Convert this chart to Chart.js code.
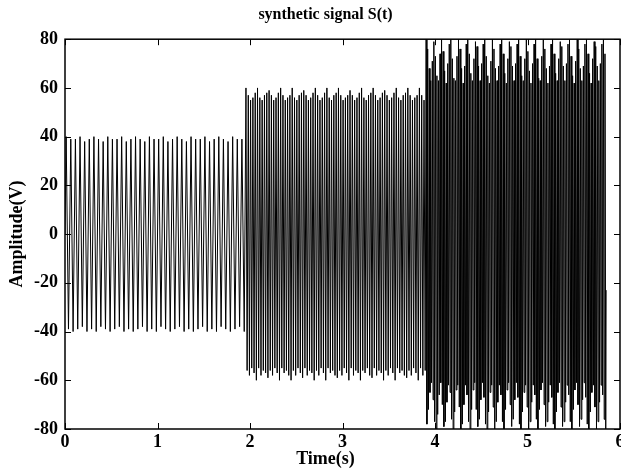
<!DOCTYPE html>
<html lang="en">

<head>
    <meta charset="UTF-8">
    <title>synthetic signal S(t)</title>
    <script src="https://cdn.jsdelivr.net/npm/chart.js"></script>
    <style>
        html, body {
            margin: 0;
            padding: 0;
            background: #fff;
        }

        .chart-box {
            position: relative;
            width: 621px;
            height: 470px;
        }
    </style>
</head>

<body>
    <div class="chart-box">
        <canvas id="signalChart"></canvas>
    </div>

    <script>
        // Segment bounds in seconds
        const segStart = [0, 1.95, 3.9];
        const segEnd = [1.95, 3.9, 5.85];

        // Positive / negative swings of each cycle (V)
        const seg1Peaks = [40, 39, 39, 40, 38, 39, 40, 39, 38, 40, 39, 39, 40, 38, 39, 40, 39, 38, 40, 39,
            39, 40, 38, 39, 40, 39, 38, 40, 39, 39, 40, 38, 39, 40, 39, 38, 40, 39, 39];
        const seg1Troughs = [-39, -40, -39, -38, -40, -39, -40, -38, -39, -40, -39, -38, -40, -39, -40, -39, -38, -40, -39, -40,
            -38, -39, -40, -39, -38, -40, -39, -40, -39, -38, -40, -39, -40, -38, -39, -40, -39, -38, -40];

        const seg2Peaks = [60, 57, 55, 56, 58, 60, 56, 55, 57, 58, 59, 57, 55, 56, 58, 60, 57, 55, 56, 57,
            60, 56, 55, 57, 58, 59, 57, 55, 56, 58, 60, 57, 55, 56, 58, 60, 56, 55, 57, 58,
            60, 57, 55, 56, 57, 59, 57, 55, 56, 58, 60, 56, 55, 57, 58, 60, 57, 55, 56, 58,
            59, 57, 55, 56, 58, 60, 56, 55, 57, 58, 60, 57, 55, 56, 57, 60, 57, 55];
        const seg2Troughs = [-56, -58, -55, -57, -60, -55, -58, -56, -57, -59, -56, -58, -55, -57, -60, -55, -57, -56, -58, -60,
            -56, -58, -55, -57, -59, -55, -58, -56, -57, -60, -56, -58, -55, -57, -60, -55, -57, -56, -58, -59,
            -56, -58, -55, -57, -60, -55, -58, -56, -57, -60, -56, -57, -55, -58, -59, -55, -58, -56, -57, -60,
            -56, -58, -55, -57, -60, -55, -57, -56, -58, -59, -56, -58, -55, -57, -60, -55, -58, -56];

        const seg3Peaks = [80, 76, 68, 63, 71, 79, 73, 65, 63, 74, 80, 75, 67, 62, 70, 78, 80, 72, 64, 63,
            73, 80, 76, 68, 62, 69, 78, 80, 74, 66, 63, 72, 79, 77, 69, 63, 70, 78, 80, 73,
            65, 62, 71, 80, 76, 68, 63, 69, 78, 80, 74, 66, 62, 72, 79, 77, 69, 63, 70, 78,
            80, 73, 65, 63, 72, 80, 75, 67, 62, 70, 78, 80, 72, 64, 63, 73, 80, 76, 68, 62,
            69, 78, 80, 74, 66, 63, 72, 79, 77, 69, 63, 70, 78, 80, 73, 65, 62, 71, 80, 76,
            68, 63, 69, 78, 80, 74, 66, 62, 72, 79, 77, 69, 63, 70, 78, 80, 74];
        const seg3Troughs = [-78, -72, -65, -61, -68, -77, -80, -74, -66, -61, -70, -79, -77, -69, -62, -65, -76, -80, -73, -64,
            -62, -71, -80, -78, -70, -62, -66, -77, -80, -72, -64, -61, -72, -79, -76, -68, -61, -67, -78, -80,
            -73, -65, -62, -71, -80, -77, -69, -62, -66, -77, -80, -72, -64, -61, -70, -79, -76, -68, -61, -67,
            -78, -80, -73, -65, -62, -71, -80, -77, -69, -62, -66, -76, -80, -72, -64, -61, -70, -79, -77, -69,
            -62, -67, -78, -80, -73, -65, -61, -71, -79, -77, -69, -62, -66, -77, -80, -72, -64, -61, -70, -79,
            -76, -68, -61, -67, -78, -80, -73, -65, -62, -71, -80, -77, -69, -62, -66, -76, -80];

        const startValue = 0;
        const endValue = -23;

        // Axis ticks
        const xTicks = [0, 1, 2, 3, 4, 5, 6];
        const yTicks = [-80, -60, -40, -20, 0, 20, 40, 60, 80];

        const serif = "'Liberation Serif', 'Times New Roman', serif";

        // Lay every cycle out inside its segment: peak in the first half, trough in the second
        function buildSignal() {
            const segs = [[seg1Peaks, seg1Troughs], [seg2Peaks, seg2Troughs], [seg3Peaks, seg3Troughs]];
            const pts = [{ x: segStart[0], y: startValue }];
            segs.forEach(([peaks, troughs], i) => {
                const n = Math.min(peaks.length, troughs.length);
                const period = (segEnd[i] - segStart[i]) / n;
                for (let k = 0; k < n; k++) {
                    pts.push({ x: segStart[i] + (k + 0.25) * period, y: peaks[k] });
                    pts.push({ x: segStart[i] + (k + 0.75) * period, y: troughs[k] });
                }
            });
            pts.push({ x: segEnd[2], y: endValue });
            return pts;
        }

        // Box round the plot with inward tick marks on all four sides
        const frameTicks = {
            id: 'frameTicks',
            afterLayout(chart) {
                // title and x label sit a bit left of the plot centre
                chart.boxes.forEach(b => {
                    if (b.options && (b.options.text === 'synthetic signal S(t)' || b.options.text === 'Time(s)')) {
                        b.left = 30;
                        b.right = 621;
                    }
                });
            },
            afterDatasetsDraw(chart) {
                const { ctx, chartArea: a, scales } = chart;
                const len = 6;
                ctx.save();
                ctx.strokeStyle = '#000';
                ctx.lineWidth = 1.5;
                ctx.strokeRect(a.left, a.top, a.right - a.left, a.bottom - a.top);
                ctx.lineWidth = 1;
                ctx.beginPath();
                xTicks.forEach(v => {
                    const px = Math.round(scales.x.getPixelForValue(v)) + 0.5;
                    ctx.moveTo(px, a.bottom);
                    ctx.lineTo(px, a.bottom - len);
                    ctx.moveTo(px, a.top);
                    ctx.lineTo(px, a.top + len);
                });
                yTicks.forEach(v => {
                    const py = Math.round(scales.y.getPixelForValue(v)) + 0.5;
                    ctx.moveTo(a.left, py);
                    ctx.lineTo(a.left + len, py);
                    ctx.moveTo(a.right, py);
                    ctx.lineTo(a.right - len, py);
                });
                ctx.stroke();
                ctx.restore();
            }
        };

        new Chart(document.getElementById('signalChart'), {
            type: 'line',
            data: {
                datasets: [{
                    data: buildSignal(),
                    borderColor: '#000',
                    borderWidth: 1,
                    pointRadius: 0,
                    tension: 0
                }]
            },
            options: {
                responsive: true,
                maintainAspectRatio: false,
                animation: false,
                events: [],
                layout: { padding: { left: 0, right: 1, top: 0, bottom: 0 } },
                plugins: {
                    legend: { display: false },
                    tooltip: { enabled: false },
                    title: {
                        display: true,
                        text: 'synthetic signal S(t)',
                        color: '#000',
                        font: { family: serif, size: 16, weight: 'bold' },
                        padding: { top: 5, bottom: 15 }
                    },
                    subtitle: {
                        display: true,
                        position: 'bottom',
                        text: 'Time(s)',
                        color: '#000',
                        font: { family: serif, size: 18, weight: 'bold' },
                        padding: { top: 0, bottom: 0 }
                    }
                },
                scales: {
                    x: {
                        type: 'linear',
                        min: 0,
                        max: 6,
                        afterBuildTicks: s => { s.ticks = xTicks.map(v => ({ value: v })); },
                        afterFit: s => { s.height = 19.4; s.paddingLeft = 0; s.paddingRight = 0; },
                        grid: { display: false, drawTicks: false },
                        border: { display: false },
                        ticks: {
                            color: '#000',
                            padding: 3,
                            maxRotation: 0,
                            font: { family: serif, size: 18, weight: 'bold' }
                        }
                    },
                    y: {
                        min: -80,
                        max: 80,
                        afterBuildTicks: s => { s.ticks = yTicks.map(v => ({ value: v })); },
                        afterFit: s => { s.width = 65; },
                        grid: { display: false, drawTicks: false },
                        border: { display: false },
                        ticks: {
                            color: '#000',
                            padding: 7,
                            font: { family: serif, size: 18, weight: 'bold' }
                        },
                        title: {
                            display: true,
                            text: 'Amplitude(V)',
                            color: '#000',
                            font: { family: serif, size: 18, weight: 'bold' },
                            padding: { top: 7, bottom: 0 }
                        }
                    }
                }
            },
            plugins: [frameTicks]
        });
    </script>
</body>

</html>
